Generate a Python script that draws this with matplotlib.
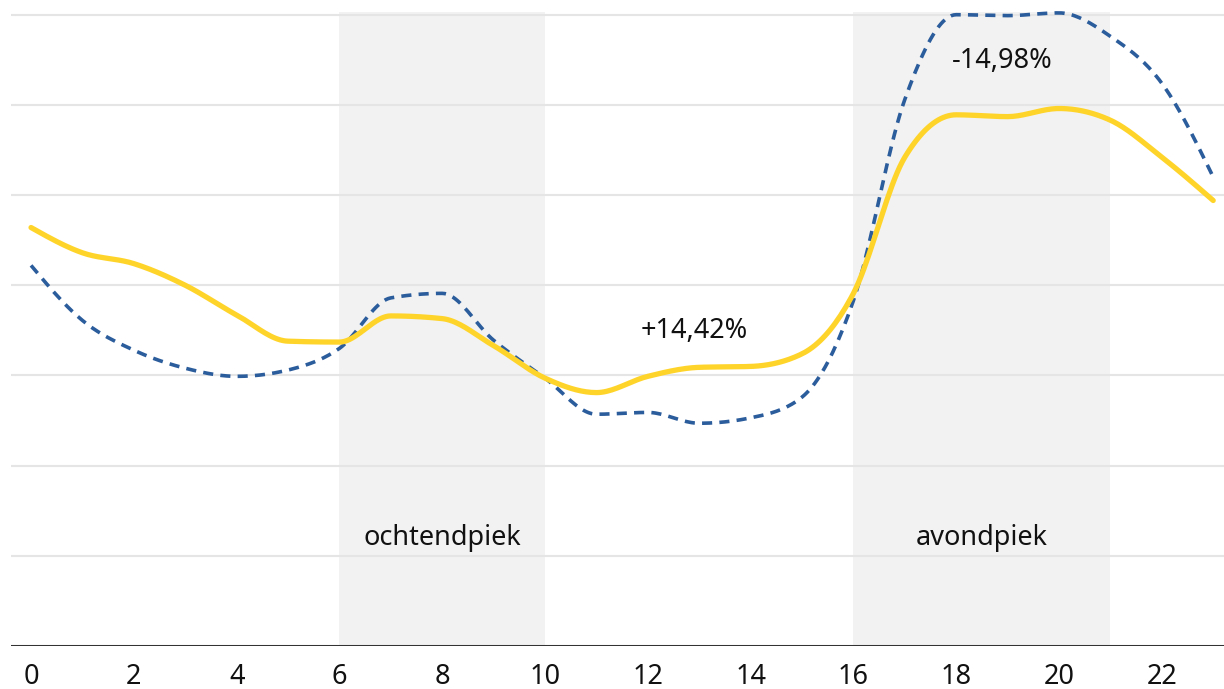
import numpy as np
import matplotlib
matplotlib.use('Agg')
import matplotlib.pyplot as plt

plt.rcParams['font.family'] = ['Noto Sans', 'DejaVu Sans']

# hours of the day
hours = list(range(24))
# yellow series (solid)
yellow_vals = [46.4, 43.6, 42.4, 40.0, 36.7, 33.8, 33.7, 36.6, 36.3, 33.3, 29.7, 28.1,
               29.9, 30.9, 31.0, 32.4, 39.1, 54.2, 58.9, 58.7, 59.6, 58.3, 54.2, 49.4]
# blue series (dashed)
blue_vals = [42.2, 36.1, 32.8, 30.8, 29.9, 30.6, 33.0, 38.6, 39.1, 33.9, 29.7, 25.7,
             25.9, 24.7, 25.3, 27.6, 38.3, 60.6, 70.0, 69.9, 70.2, 67.6, 62.4, 52.0]
peaks = [(6, 10, 'ochtendpiek'), (16, 21, 'avondpiek')]
notes = [(12.9, 34.9, '+14,42%'), (18.9, 64.9, '-14,98%')]


def monotone(x, y, n=20):
    # monotone cubic (Steffen), like d3 curveMonotoneX
    x = np.asarray(x, float)
    y = np.asarray(y, float)
    h = np.diff(x)
    s = np.diff(y) / h
    m = np.zeros_like(y)
    for i in range(1, len(y) - 1):
        p = (s[i - 1] * h[i] + s[i] * h[i - 1]) / (h[i - 1] + h[i])
        m[i] = (np.sign(s[i - 1]) + np.sign(s[i])) * min(abs(s[i - 1]), abs(s[i]), 0.5 * abs(p))
    m[0] = (3 * s[0] - m[1]) / 2
    m[-1] = (3 * s[-1] - m[-2]) / 2
    xs, ys = [], []
    for i in range(len(h)):
        t = np.linspace(0, 1, n, endpoint=False)
        h00 = 2 * t**3 - 3 * t**2 + 1
        h10 = t**3 - 2 * t**2 + t
        h01 = -2 * t**3 + 3 * t**2
        h11 = t**3 - t**2
        xs.append(x[i] + t * h[i])
        ys.append(h00 * y[i] + h10 * h[i] * m[i] + h01 * y[i + 1] + h11 * h[i] * m[i + 1])
    xs.append([x[-1]])
    ys.append([y[-1]])
    return np.concatenate(xs), np.concatenate(ys)


fig = plt.figure(figsize=(12.24, 6.89), dpi=100)
ax = fig.add_axes([11 / 1224, 43 / 689, 1 - 11 / 1224, 634 / 689])

for a, b, label in peaks:
    ax.axvspan(a, b, color='#f2f2f2', lw=0, zorder=0)
    ax.text((a + b) / 2, 12.0, label, ha='center', va='center', fontsize=19.5, color='#111111')

for g in range(10, 80, 10):
    ax.axhline(g, color='#e5e5e5', lw=1.5, zorder=1)
ax.axhline(0, color='#333333', lw=2.2, zorder=3)

bx, by = monotone(hours, blue_vals)
ax.plot(bx, by, color='#2b5c9b', lw=2.6, linestyle=(0, (2.8, 2.0)), zorder=4, clip_on=False)
yx, yy = monotone(hours, yellow_vals)
ax.plot(yx, yy, color='#ffd42a', lw=3.8, solid_capstyle='round', zorder=5)

for x, y, s in notes:
    ax.text(x, y, s, ha='center', va='center', fontsize=19.5, color='#111111', zorder=6)

ax.set_xlim(-0.39, 23.21)
ax.set_ylim(0, 70.3)
ax.set_xticks(range(0, 24, 2))
ax.set_yticks([])
ax.tick_params(axis='x', length=0, pad=12, labelsize=19.5, labelcolor='#111111')
for sp in ax.spines.values():
    sp.set_visible(False)

plt.savefig('out.png', facecolor='white')
